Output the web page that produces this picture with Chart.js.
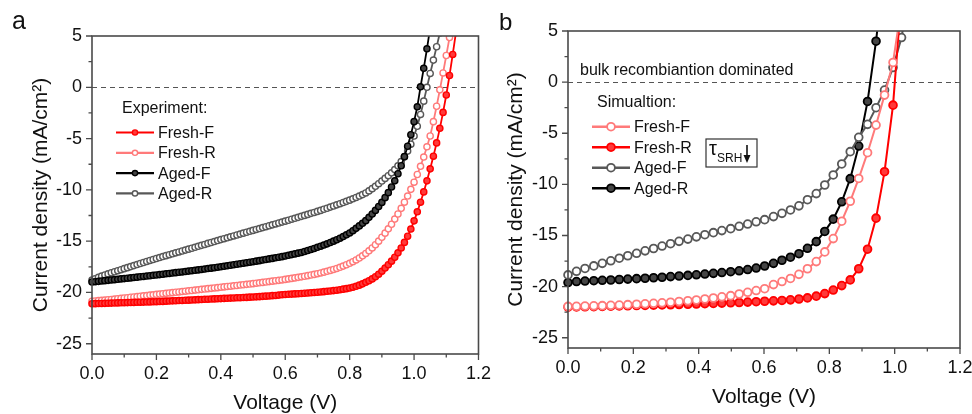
<!DOCTYPE html>
<html>
<head>
<meta charset="utf-8">
<script src="https://cdn.jsdelivr.net/npm/chart.js@4.4.1/dist/chart.umd.min.js"></script>
<style>
  html, body { margin: 0; padding: 0; background: #fff; overflow: hidden; width: 972px; height: 414px; }
  .pane { position: absolute; top: 0; width: 500px; height: 414px; }
  #paneA { left: 0; }
  #paneB { left: 488px; }
</style>
</head>
<body>
<div class="pane" id="paneA"><canvas id="chartA" width="500" height="414"></canvas></div>
<div class="pane" id="paneB"><canvas id="chartB" width="500" height="414"></canvas></div>
<script>
// ---- Panel a: measured J-V sweeps (V step 0.01 V) ----
const vExp = [
  0.00,0.01,0.02,0.03,0.04,0.05,0.06,0.07,0.08,0.09,
  0.10,0.11,0.12,0.13,0.14,0.15,0.16,0.17,0.18,0.19,
  0.20,0.21,0.22,0.23,0.24,0.25,0.26,0.27,0.28,0.29,
  0.30,0.31,0.32,0.33,0.34,0.35,0.36,0.37,0.38,0.39,
  0.40,0.41,0.42,0.43,0.44,0.45,0.46,0.47,0.48,0.49,
  0.50,0.51,0.52,0.53,0.54,0.55,0.56,0.57,0.58,0.59,
  0.60,0.61,0.62,0.63,0.64,0.65,0.66,0.67,0.68,0.69,
  0.70,0.71,0.72,0.73,0.74,0.75,0.76,0.77,0.78,0.79,
  0.80,0.81,0.82,0.83,0.84,0.85,0.86,0.87,0.88,0.89,
  0.90,0.91,0.92,0.93,0.94,0.95,0.96,0.97,0.98,0.99,
  1.00,1.01,1.02,1.03,1.04,1.05,1.06,1.07,1.08,1.09,
  1.10,1.11,1.12,1.13
];
const expFreshF = [
  -21.10,-21.09,-21.08,-21.07,-21.06,-21.05,-21.04,-21.03,-21.02,-21.01,
  -21.00,-20.99,-20.98,-20.97,-20.96,-20.95,-20.94,-20.93,-20.92,-20.91,
  -20.90,-20.88,-20.87,-20.85,-20.84,-20.82,-20.81,-20.79,-20.78,-20.76,
  -20.75,-20.73,-20.72,-20.70,-20.69,-20.67,-20.66,-20.64,-20.63,-20.61,
  -20.60,-20.58,-20.57,-20.55,-20.54,-20.52,-20.51,-20.49,-20.48,-20.46,
  -20.45,-20.43,-20.41,-20.38,-20.36,-20.34,-20.31,-20.29,-20.26,-20.23,
  -20.20,-20.18,-20.16,-20.14,-20.12,-20.10,-20.08,-20.06,-20.03,-20.01,
  -19.98,-19.95,-19.92,-19.89,-19.86,-19.82,-19.78,-19.73,-19.68,-19.63,
  -19.57,-19.49,-19.40,-19.29,-19.16,-19.01,-18.86,-18.68,-18.47,-18.22,
  -17.93,-17.62,-17.30,-16.95,-16.57,-16.14,-15.66,-15.12,-14.52,-13.82,
  -13.02,-12.14,-11.20,-10.20,-9.12,-7.95,-6.72,-5.42,-4.00,-2.45,
  -0.75,1.15,3.20,5.35
];
const expFreshR = [
  -20.86,-20.83,-20.80,-20.77,-20.74,-20.71,-20.68,-20.65,-20.61,-20.58,
  -20.54,-20.51,-20.47,-20.44,-20.40,-20.37,-20.33,-20.30,-20.26,-20.23,
  -20.19,-20.16,-20.12,-20.09,-20.05,-20.02,-19.98,-19.95,-19.91,-19.88,
  -19.84,-19.81,-19.77,-19.74,-19.70,-19.67,-19.63,-19.60,-19.56,-19.53,
  -19.49,-19.46,-19.42,-19.39,-19.35,-19.32,-19.28,-19.25,-19.21,-19.18,
  -19.14,-19.10,-19.06,-19.02,-18.98,-18.94,-18.90,-18.86,-18.82,-18.78,
  -18.73,-18.68,-18.63,-18.58,-18.53,-18.48,-18.42,-18.36,-18.30,-18.24,
  -18.17,-18.10,-18.02,-17.94,-17.85,-17.76,-17.66,-17.55,-17.43,-17.30,
  -17.16,-17.00,-16.83,-16.64,-16.43,-16.20,-15.94,-15.66,-15.35,-15.00,
  -14.62,-14.22,-13.80,-13.35,-12.85,-12.35,-11.80,-11.20,-10.60,-9.95,
  -9.25,-8.50,-7.70,-6.80,-5.80,-4.75,-3.35,-1.85,-0.25,1.40,
  3.10,4.85,6.65
];
const expAgedF = [
  -18.98,-18.95,-18.92,-18.88,-18.85,-18.82,-18.78,-18.75,-18.72,-18.68,
  -18.65,-18.61,-18.58,-18.54,-18.51,-18.47,-18.44,-18.40,-18.37,-18.33,
  -18.30,-18.26,-18.22,-18.18,-18.15,-18.11,-18.07,-18.03,-18.00,-17.96,
  -17.92,-17.88,-17.84,-17.80,-17.76,-17.72,-17.67,-17.63,-17.59,-17.54,
  -17.50,-17.45,-17.40,-17.35,-17.30,-17.25,-17.20,-17.15,-17.10,-17.05,
  -17.00,-16.95,-16.90,-16.84,-16.79,-16.73,-16.68,-16.62,-16.57,-16.51,
  -16.45,-16.38,-16.31,-16.24,-16.17,-16.10,-16.01,-15.91,-15.81,-15.71,
  -15.60,-15.49,-15.38,-15.26,-15.13,-15.00,-14.86,-14.71,-14.55,-14.38,
  -14.20,-13.98,-13.75,-13.51,-13.26,-13.00,-12.68,-12.35,-12.00,-11.62,
  -11.22,-10.76,-10.27,-9.72,-9.12,-8.43,-7.65,-6.76,-5.75,-4.62,
  -3.35,-1.90,0.05,1.85,3.75,5.80
];
const expAgedR = [
  -18.80,-18.66,-18.53,-18.41,-18.30,-18.19,-18.08,-17.98,-17.88,-17.78,
  -17.68,-17.58,-17.48,-17.38,-17.28,-17.18,-17.08,-16.98,-16.88,-16.79,
  -16.69,-16.60,-16.50,-16.41,-16.32,-16.23,-16.14,-16.05,-15.96,-15.87,
  -15.78,-15.69,-15.60,-15.50,-15.41,-15.32,-15.22,-15.13,-15.04,-14.94,
  -14.85,-14.76,-14.67,-14.58,-14.49,-14.40,-14.31,-14.22,-14.13,-14.04,
  -13.95,-13.86,-13.77,-13.68,-13.59,-13.50,-13.41,-13.32,-13.23,-13.14,
  -13.05,-12.96,-12.86,-12.77,-12.68,-12.58,-12.49,-12.39,-12.29,-12.20,
  -12.10,-12.00,-11.89,-11.79,-11.68,-11.57,-11.46,-11.35,-11.23,-11.12,
  -11.00,-10.87,-10.74,-10.60,-10.46,-10.30,-10.10,-9.88,-9.65,-9.40,
  -9.14,-8.88,-8.62,-8.34,-8.02,-7.66,-7.25,-6.78,-6.22,-5.55,
  -4.75,-3.80,-2.65,-1.35,0.00,1.35,2.65,3.95,5.30
];

// ---- Panel b: drift-diffusion simulation sweeps ----
const vSim = [
  0.000,0.026,0.052,0.079,0.105,0.131,0.157,0.183,0.210,0.236,
  0.262,0.288,0.314,0.340,0.367,0.393,0.419,0.445,0.471,0.498,
  0.524,0.550,0.576,0.602,0.629,0.655,0.681,0.707,0.733,0.760,
  0.786,0.812,0.838,0.864,0.890,0.917,0.943,0.969,0.995,1.021,
  1.048
];
const simFreshF = [
  -21.93,-21.92,-21.90,-21.88,-21.86,-21.83,-21.80,-21.76,-21.72,-21.68,
  -21.63,-21.58,-21.52,-21.45,-21.38,-21.30,-21.21,-21.11,-21.00,-20.88,
  -20.72,-20.55,-20.38,-20.20,-19.80,-19.50,-19.20,-18.80,-18.25,-17.55,
  -16.60,-15.30,-13.60,-11.65,-9.42,-6.90,-4.20,-1.27,1.92,7.50
];
const simFreshR = [
  -22.00,-21.98,-21.97,-21.95,-21.93,-21.91,-21.89,-21.87,-21.85,-21.83,
  -21.81,-21.79,-21.77,-21.75,-21.72,-21.70,-21.67,-21.64,-21.61,-21.58,
  -21.55,-21.51,-21.47,-21.43,-21.39,-21.35,-21.29,-21.21,-21.10,-20.93,
  -20.68,-20.33,-19.90,-19.34,-18.25,-16.34,-13.30,-8.76,-2.25,8.50
];
const simAgedF = [
  -18.85,-18.50,-18.22,-17.97,-17.72,-17.47,-17.22,-16.98,-16.74,-16.50,
  -16.27,-16.03,-15.80,-15.57,-15.35,-15.13,-14.92,-14.72,-14.52,-14.33,
  -14.10,-13.88,-13.66,-13.45,-13.15,-12.83,-12.50,-12.10,-11.50,-10.90,
  -10.06,-9.08,-8.00,-6.80,-5.40,-4.13,-2.50,-0.78,1.43,4.36,
  9.50
];
const simAgedR = [
  -19.60,-19.50,-19.45,-19.42,-19.38,-19.35,-19.30,-19.26,-19.22,-19.18,
  -19.13,-19.08,-19.02,-18.96,-18.90,-18.84,-18.77,-18.70,-18.62,-18.54,
  -18.45,-18.33,-18.18,-17.98,-17.72,-17.42,-17.12,-16.78,-16.25,-15.60,
  -14.60,-13.40,-11.70,-9.44,-6.25,-1.89,4.00,11.50
];

// ---- Axis ticks ----
const xMajor = [0, 0.2, 0.4, 0.6, 0.8, 1.0, 1.2];
const xMinor = [0.1, 0.3, 0.5, 0.7, 0.9, 1.1];
const yMajor = [-25, -20, -15, -10, -5, 0, 5];
const yMinor = [-22.5, -17.5, -12.5, -7.5, -2.5, 2.5];

const FONT = '"Liberation Sans", Arial, Helvetica, sans-serif';
const RED = '#ff0000', PINK = '#ff7a7a', BLACK = '#000000', GREY = '#585858';

function pts(vs, js) { return js.map((j, i) => ({ x: vs[i], y: j })); }

function series(label, vs, js, color, filled, big) {
  return {
    label,
    data: pts(vs, js),
    borderColor: color,
    borderWidth: big ? 2 : 1.8,
    pointRadius: big ? 3.9 : 3.1,
    pointBorderWidth: big ? 1.8 : 1.4,
    pointBorderColor: color,
    pointBackgroundColor: filled ? (color === RED ? '#ff3a3a' : '#454545') : '#ffffff',
    pointHoverRadius: 0,
    tension: 0,
    fill: false,
    clip: { left: 6, top: 0, right: 0, bottom: 0 }
  };
}

// Frame, ticks, zero line, legend block and text notes
const decoPlugin = {
  id: 'deco',
  beforeDatasetsDraw(chart) {
    const { ctx, chartArea: a, scales: { y } } = chart;
    const y0 = Math.round(y.getPixelForValue(0)) + 0.5;
    ctx.save();
    ctx.strokeStyle = '#555';
    ctx.lineWidth = 1;
    ctx.setLineDash([5, 4]);
    ctx.beginPath(); ctx.moveTo(a.left, y0); ctx.lineTo(a.right, y0); ctx.stroke();
    ctx.restore();
  },
  afterDatasetsDraw(chart) {
    const { ctx, chartArea: a, scales: { x, y } } = chart;
    ctx.save();
    ctx.strokeStyle = '#4a4a4a';
    ctx.lineWidth = 1.6;
    ctx.strokeRect(a.left, a.top, a.right - a.left, a.bottom - a.top);
    ctx.lineWidth = 1.3;
    ctx.beginPath();
    xMajor.forEach(v => { const p = x.getPixelForValue(v); ctx.moveTo(p, a.bottom); ctx.lineTo(p, a.bottom + 6); });
    xMinor.forEach(v => { const p = x.getPixelForValue(v); ctx.moveTo(p, a.bottom); ctx.lineTo(p, a.bottom + 3.5); });
    yMajor.forEach(v => { const p = y.getPixelForValue(v); ctx.moveTo(a.left, p); ctx.lineTo(a.left - 6, p); });
    yMinor.forEach(v => { const p = y.getPixelForValue(v); ctx.moveTo(a.left, p); ctx.lineTo(a.left - 3.5, p); });
    ctx.stroke();
    ctx.restore();
  },
  afterDraw(chart, args, o) {
    const ctx = chart.ctx;
    ctx.save();
    ctx.fillStyle = '#111';
    ctx.textBaseline = 'alphabetic';
    ctx.textAlign = 'left';
    ctx.font = o.tagSize + 'px ' + FONT;
    ctx.fillText(o.tag, o.tagX, o.tagY);

    ctx.font = '16px ' + FONT;
    ctx.textBaseline = 'middle';
    ctx.fillText(o.heading, o.headX, o.headY);
    chart.data.datasets.forEach((ds, i) => {
      const yy = o.rowY + i * o.rowGap;
      const r = o.markR || ds.pointRadius;
      ctx.strokeStyle = ds.borderColor;
      ctx.lineWidth = ds.borderWidth + 0.4;
      ctx.beginPath(); ctx.moveTo(o.lineX, yy); ctx.lineTo(o.lineX + o.lineLen, yy); ctx.stroke();
      ctx.beginPath();
      ctx.arc(o.lineX + o.lineLen / 2, yy, r, 0, Math.PI * 2);
      ctx.fillStyle = ds.pointBackgroundColor; ctx.fill();
      ctx.lineWidth = ds.pointBorderWidth; ctx.strokeStyle = ds.pointBorderColor; ctx.stroke();
      ctx.fillStyle = '#111';
      ctx.fillText(ds.label, o.lineX + o.lineLen + 4, yy + 1);
    });

    if (o.note) {
      ctx.font = '16px ' + FONT;
      ctx.fillText(o.note, o.noteX, o.noteY);
    }
    if (o.box) {
      const b = o.box;
      ctx.strokeStyle = '#333'; ctx.lineWidth = 1.2;
      ctx.strokeRect(b.x, b.y, b.w, b.h);
      ctx.fillStyle = '#111';
      ctx.textBaseline = 'alphabetic';
      ctx.font = '20px ' + FONT;
      ctx.fillText('\u03C4', b.x + 3, b.y + 16);
      ctx.font = '12px ' + FONT;
      ctx.fillText('SRH', b.x + 11, b.y + 23);
      // downward arrow
      const ax = b.x + b.w - 10;
      ctx.strokeStyle = '#111'; ctx.lineWidth = 1.6;
      ctx.beginPath(); ctx.moveTo(ax, b.y + 6); ctx.lineTo(ax, b.y + 18); ctx.stroke();
      ctx.beginPath(); ctx.moveTo(ax - 3.5, b.y + 16); ctx.lineTo(ax + 3.5, b.y + 16); ctx.lineTo(ax, b.y + 24); ctx.closePath(); ctx.fill();
    }
    ctx.restore();
  }
};

function makeOptions(cfg) {
  return {
    responsive: false,
    animation: false,
    events: [],
    layout: { padding: { left: 0, top: cfg.top, right: cfg.right, bottom: 0 } },
    plugins: {
      legend: { display: false },
      tooltip: { enabled: false },
      deco: cfg.deco
    },
    scales: {
      x: {
        type: 'linear', min: 0, max: 1.2,
        afterBuildTicks: s => { s.ticks = xMajor.map(v => ({ value: v })); },
        afterFit: s => { s.height = cfg.xHeight; },
        grid: { display: false, drawTicks: false },
        border: { display: false },
        ticks: {
          callback: v => Number(v).toFixed(1),
          font: { family: FONT, size: 18 }, color: '#111', padding: 9,
          maxRotation: 0, autoSkip: false
        },
        title: {
          display: true, text: 'Voltage (V)', color: '#111',
          font: { family: FONT, size: 21, lineHeight: 1 },
          padding: { top: 0, bottom: cfg.xTitlePad }
        }
      },
      y: {
        type: 'linear', min: -26, max: 5,
        afterBuildTicks: s => { s.ticks = yMajor.map(v => ({ value: v })); },
        afterFit: s => { s.width = cfg.yWidth; },
        grid: { display: false, drawTicks: false },
        border: { display: false },
        ticks: {
          callback: v => String(v),
          font: { family: FONT, size: 18 }, color: '#111', padding: 10
        },
        title: {
          display: true, text: 'Current density (mA/cm\u00B2)', color: '#111',
          font: { family: FONT, size: 21, lineHeight: 1 },
          padding: { top: cfg.yTitlePad, bottom: 0 }
        }
      }
    }
  };
}

new Chart(document.getElementById('chartA'), {
  type: 'line',
  data: {
    datasets: [
      series('Fresh-F', vExp, expFreshF, RED, true, false),
      series('Fresh-R', vExp, expFreshR, PINK, false, false),
      series('Aged-F', vExp, expAgedF, BLACK, true, false),
      series('Aged-R', vExp, expAgedR, GREY, false, false)
    ]
  },
  options: makeOptions({
    top: 36, right: 16, xHeight: 60, yWidth: 92, xTitlePad: 0, yTitlePad: 31,
    deco: {
      tag: 'a', tagSize: 25, tagX: 12, tagY: 29,
      heading: 'Experiment:', headX: 122, headY: 109,
      lineX: 116, lineLen: 38, rowY: 132.5, rowGap: 20.3, markR: 2.6
    }
  }),
  plugins: [decoPlugin]
});

new Chart(document.getElementById('chartB'), {
  type: 'line',
  data: {
    datasets: [
      series('Fresh-F', vSim, simFreshF, PINK, false, true),
      series('Fresh-R', vSim, simFreshR, RED, true, true),
      series('Aged-F', vSim, simAgedF, GREY, false, true),
      series('Aged-R', vSim, simAgedR, BLACK, true, true)
    ]
  },
  options: makeOptions({
    top: 31, right: 28, xHeight: 66, yWidth: 80, xTitlePad: 6, yTitlePad: 18,
    deco: {
      tag: 'b', tagSize: 24, tagX: 11, tagY: 30,
      heading: 'Simualtion:', headX: 109, headY: 103,
      lineX: 104, lineLen: 38, rowY: 126.7, rowGap: 20.5,
      note: 'bulk recombiantion dominated', noteX: 92, noteY: 71,
      box: { x: 218, y: 139, w: 51, h: 28 }
    }
  }),
  plugins: [decoPlugin]
});
</script>
</body>
</html>
